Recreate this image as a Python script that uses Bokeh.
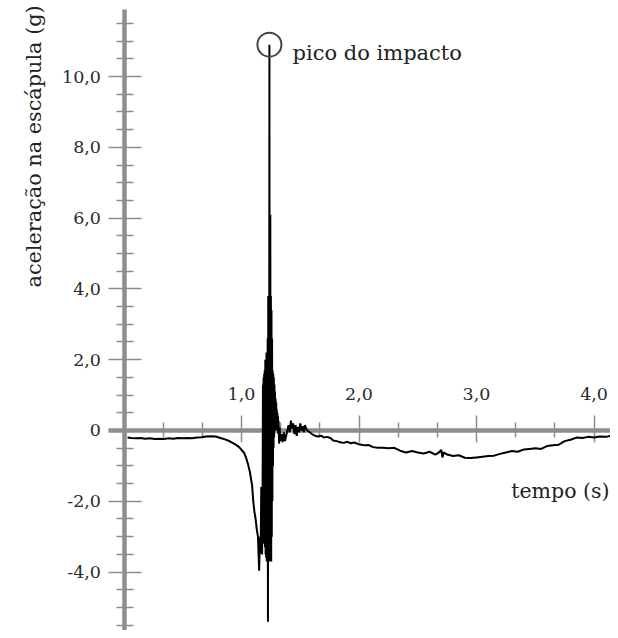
import math
from bokeh.plotting import figure
from bokeh.models import LinearAxis, FixedTicker, Range1d, Label, ColumnDataSource
from bokeh.embed import file_html
from bokeh.resources import INLINE

# ---- data -------------------------------------------------------------
# time (s)
T_PRE = [0.03, 0.06, 0.10, 0.14, 0.18, 0.22, 0.26, 0.30, 0.34, 0.38, 0.42, 0.46,
         0.50, 0.54, 0.58, 0.62, 0.66, 0.70, 0.74, 0.78, 0.82, 0.86, 0.89, 0.92,
         0.95, 0.98, 1.00, 1.02, 1.04, 1.055, 1.07, 1.08, 1.09, 1.10, 1.11, 1.12,
         1.13, 1.14, 1.15, 1.157, 1.163, 1.168, 1.175, 1.18]
G_PRE = [-0.20, -0.21, -0.22, -0.21, -0.23, -0.22, -0.24, -0.23, -0.24, -0.22, -0.23, -0.21,
         -0.22, -0.21, -0.22, -0.20, -0.19, -0.17, -0.16, -0.17, -0.21, -0.25, -0.29, -0.34,
         -0.40, -0.47, -0.55, -0.62, -0.78, -0.95, -1.15, -1.35, -1.55, -2.00, -2.30, -2.50,
         -2.80, -3.00, -3.96, -3.00, -3.47, -1.60, -3.50, -1.20]

T_IMPACT = [1.1825, 1.1850, 1.1875, 1.1900, 1.1925, 1.1950, 1.1975, 1.2000, 1.2025, 1.2050,
            1.2075, 1.2100, 1.2125, 1.2150, 1.2175, 1.2200, 1.2225, 1.2250, 1.2275, 1.2300,
            1.2325, 1.2350, 1.2375, 1.2400, 1.2425, 1.2450, 1.2475, 1.2500, 1.2525, 1.2550,
            1.2575, 1.2600, 1.2625, 1.2650, 1.2675, 1.2700, 1.2725, 1.2750, 1.2775, 1.2800,
            1.2825, 1.2850, 1.2875, 1.2900, 1.2925, 1.2950, 1.2975, 1.3000, 1.3025, 1.3050,
            1.3075, 1.3100, 1.3125, 1.3150]
G_IMPACT = [1.3, -2.8, 1.5, -3.2, 1.6, -2.9, 1.7, -3.3, 2.0, -3.5,
            1.7, -3.6, 2.2, -3.7, 1.7, -3.6, 2.6, -5.4, 3.8, -3.7,
            3.7, -3.6, 10.9, -3.7, 3.8, 6.1, -3.6, 3.8, -3.7, 3.4,
            -3.0, 2.6, -2.0, 1.7, -1.0, 1.6, -0.5, 1.5, -0.2, 1.3,
            0.0, 1.1, 0.1, 0.9, 0.0, 0.8, 0.1, 0.6, 0.0, 0.5,
            0.1, 0.4, -0.1, 0.28]

T_POST = [1.320, 1.325, 1.330, 1.340, 1.350, 1.360, 1.370, 1.380, 1.390, 1.400,
          1.410, 1.420, 1.430, 1.440, 1.450, 1.460, 1.470, 1.480, 1.490, 1.500,
          1.510, 1.520, 1.530, 1.540, 1.550, 1.560, 1.580, 1.600, 1.620, 1.650,
          1.680, 1.700, 1.730, 1.760, 1.780, 1.810, 1.840, 1.870, 1.900, 1.930,
          1.960, 1.990, 2.020, 2.050, 2.080, 2.120, 2.160, 2.200, 2.250, 2.300,
          2.350, 2.400, 2.450, 2.500, 2.550, 2.600, 2.650, 2.680, 2.700, 2.710,
          2.720, 2.750, 2.800, 2.850, 2.900, 2.950, 3.000, 3.050, 3.100, 3.150,
          3.200, 3.250, 3.300, 3.350, 3.400, 3.450, 3.500, 3.550, 3.600, 3.650,
          3.700, 3.750, 3.800, 3.850, 3.900, 3.950, 4.000, 4.050, 4.100, 4.140]
G_POST = [-0.37, 0.09, -0.30, -0.10, -0.33, -0.05, -0.30, -0.15, 0.00, 0.15,
          -0.05, 0.28, 0.05, 0.20, -0.10, 0.15, -0.15, 0.10, -0.05, 0.20,
          0.00, 0.12, -0.05, 0.15, 0.05, 0.00, -0.05, -0.10, -0.14, -0.17,
          -0.15, -0.20, -0.18, -0.22, -0.28, -0.30, -0.33, -0.35, -0.32, -0.36,
          -0.34, -0.38, -0.40, -0.42, -0.41, -0.47, -0.49, -0.49, -0.50, -0.49,
          -0.57, -0.62, -0.58, -0.62, -0.65, -0.60, -0.68, -0.62, -0.55, -0.76,
          -0.62, -0.68, -0.72, -0.70, -0.77, -0.78, -0.76, -0.74, -0.72, -0.71,
          -0.66, -0.62, -0.58, -0.60, -0.54, -0.52, -0.50, -0.52, -0.44, -0.42,
          -0.40, -0.30, -0.26, -0.20, -0.21, -0.18, -0.20, -0.17, -0.18, -0.15]

X_TICKS = [1.0, 2.0, 3.0, 4.0]
X_TICK_LABELS = ["1,0", "2,0", "3,0", "4,0"]
X_MINOR_TICKS = [1/3, 2/3, 4/3, 5/3, 7/3, 8/3, 10/3, 11/3]
Y_TICKS = [-4.0, -2.0, 0.0, 2.0, 4.0, 6.0, 8.0, 10.0]
Y_TICK_LABELS = ["-4,0", "-2,0", "0", "2,0", "4,0", "6,0", "8,0", "10,0"]
Y_MINOR_TICKS = [-5.5, -5.0, -4.5, -3.5, -3.0, -2.5, -1.5, -1.0, -0.5, 0.5, 1.0, 1.5,
                 2.5, 3.0, 3.5, 4.5, 5.0, 5.5, 6.5, 7.0, 7.5, 8.5, 9.0, 9.5,
                 10.5, 11.0, 11.5]

X_LABEL = "tempo (s)"
Y_LABEL = "aceleração na escápula (g)"
PEAK_LABEL = "pico do impacto"

T = T_PRE + T_IMPACT + T_POST
G = G_PRE + G_IMPACT + G_POST
peak_i = max(range(len(G)), key=lambda i: G[i])

# ---- figure ------------------------------------------------------------
W, H = 610, 630
p = figure(width=W, height=H, x_range=Range1d(-1.051, 4.140),
           y_range=Range1d(-5.650, 12.147), output_backend="svg",
           toolbar_location=None, x_axis_type=None, y_axis_type=None,
           min_border=0, background_fill_color="white",
           border_fill_color="white")
p.outline_line_color = None

FONT = "DejaVu Serif"
AX = "#8e8e8e"

xaxis = LinearAxis(fixed_location=0,
                   ticker=FixedTicker(ticks=X_TICKS, minor_ticks=X_MINOR_TICKS),
                   bounds=(-0.13, 4.14))
xaxis.major_label_overrides = dict(zip(X_TICKS, X_TICK_LABELS))
yaxis = LinearAxis(fixed_location=0,
                   ticker=FixedTicker(ticks=Y_TICKS, minor_ticks=Y_MINOR_TICKS),
                   bounds=(-6.5, 11.88))
yaxis.major_label_overrides = dict(zip(Y_TICKS, Y_TICK_LABELS))

for ax in (xaxis, yaxis):
    ax.level = "underlay"
    ax.axis_line_color = AX
    ax.axis_line_width = 4.5
    ax.major_tick_line_color = AX
    ax.major_tick_line_width = 1.5
    ax.minor_tick_line_color = AX
    ax.minor_tick_line_width = 1.5
    ax.major_label_text_font = FONT
    ax.major_label_text_font_size = "17.5px"
    ax.major_label_text_color = "#2a2a2a"

xaxis.major_tick_out = 15
xaxis.major_tick_in = 12
xaxis.minor_tick_out = 8
xaxis.minor_tick_in = 7
xaxis.major_label_standoff = 15

yaxis.major_tick_out = 16
yaxis.major_tick_in = 17
yaxis.minor_tick_out = 8
yaxis.minor_tick_in = 9
yaxis.major_label_standoff = 7

p.add_layout(xaxis, "above")
p.add_layout(yaxis, "left")

src = ColumnDataSource(data=dict(t=T, g=G))
p.line("t", "g", source=src, line_color="black", line_width=2)

p.scatter(x=[T[peak_i]], y=[G[peak_i]], size=24, marker="circle",
          fill_color=None, line_color="#444444", line_width=2)

# text labels (screen units, frame == canvas, y measured from the bottom)
p.add_layout(Label(x=292, y=578, x_units="screen", y_units="screen",
                   text=PEAK_LABEL, text_font=FONT, text_font_size="21px",
                   text_color="#222222", text_align="left",
                   text_baseline="alphabetic"))
p.add_layout(Label(x=609, y=140, x_units="screen", y_units="screen",
                   text=X_LABEL, text_font=FONT, text_font_size="20.5px",
                   text_color="#222222", text_align="right",
                   text_baseline="alphabetic"))
p.add_layout(Label(x=33.5, y=343, x_units="screen", y_units="screen",
                   text=Y_LABEL, text_font=FONT, text_font_size="20.8px",
                   text_color="#222222", text_align="left",
                   text_baseline="alphabetic", angle=math.pi / 2))

open("out.html", "w").write(file_html(p, INLINE))
